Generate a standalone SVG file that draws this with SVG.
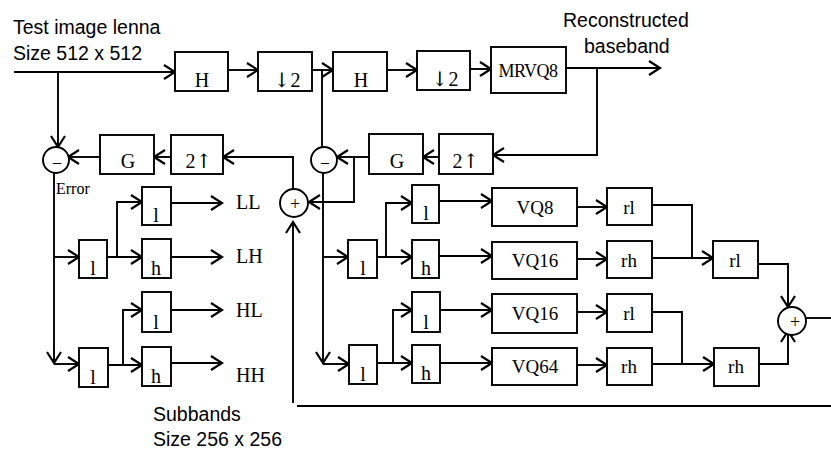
<svg xmlns="http://www.w3.org/2000/svg" width="831" height="451" viewBox="0 0 831 451">
<defs>
<marker id="a" markerWidth="16" markerHeight="16" refX="12" refY="7" orient="auto" markerUnits="userSpaceOnUse" overflow="visible">
<path d="M1,0 L12,7 L1,14" fill="none" stroke="#000" stroke-width="2.2"/>
</marker>
<style>
.b{fill:#fff;stroke:#000;stroke-width:1.9}
.c{fill:#fff;stroke:#000;stroke-width:1.9}
.w{fill:none;stroke:#000;stroke-width:1.9}
.ar{marker-end:url(#a)}
.s{font-family:"Liberation Serif","Times New Roman",serif;font-size:20px;fill:#000;text-anchor:middle}
.sl{font-family:"Liberation Serif","Times New Roman",serif;font-size:20px;fill:#000}
.a{font-family:"Liberation Sans",Arial,sans-serif;font-size:19.5px;fill:#000}
.arw{font-family:"DejaVu Serif","DejaVu Sans",serif;font-size:20px}
</style>
</defs>
<rect width="831" height="451" fill="#fff"/>

<g id="connectors">
<path class="w ar" d="M14,72 H175"/>
<path class="w ar" d="M228,70 H258"/>
<path class="w ar" d="M312,70 H333"/>
<path class="w ar" d="M387,70 H417"/>
<path class="w ar" d="M470,69 H491"/>
<path class="w ar" d="M566,68 H660"/>
<path class="w ar" d="M597,68 V155 H493"/>
<path class="w ar" d="M439,157 H423"/>
<path class="w ar" d="M369,157 H337"/>
<path class="w ar" d="M354,157 V202 H309"/>
<path class="w" d="M322,70 V147"/>
<path class="w ar" d="M323,173 V363"/>
<path class="w ar" d="M323,364 H349"/>
<path class="w ar" d="M323,257 H348"/>
<path class="w ar" d="M293,403 V222"/>
<path class="w ar" d="M293,189 V157 H223"/>
<path class="w ar" d="M171,157 H154"/>
<path class="w ar" d="M100,157 H68"/>
<path class="w ar" d="M58,72 V147"/>
<path class="w ar" d="M54,173 V363"/>
<path class="w ar" d="M54,364 H79"/>
<path class="w ar" d="M54,257 H79"/>
<path class="w ar" d="M107,257 H142"/>
<path class="w ar" d="M117,257 V202 H142"/>
<path class="w ar" d="M171,203 H222"/>
<path class="w ar" d="M171,257 H222"/>
<path class="w ar" d="M108,365 H142"/>
<path class="w ar" d="M123,365 V310 H142"/>
<path class="w ar" d="M171,310 H222"/>
<path class="w ar" d="M171,363 H222"/>
<path class="w ar" d="M377,257 H412"/>
<path class="w ar" d="M386,257 V203 H412"/>
<path class="w ar" d="M377,363 H412"/>
<path class="w ar" d="M393,363 V310 H412"/>
<path class="w ar" d="M439,201 H492"/>
<path class="w ar" d="M439,256 H492"/>
<path class="w ar" d="M440,310 H492"/>
<path class="w ar" d="M440,363 H492"/>
<path class="w ar" d="M577,207 H607"/>
<path class="w ar" d="M577,259 H607"/>
<path class="w ar" d="M577,312 H607"/>
<path class="w ar" d="M577,365 H607"/>
<path class="w" d="M652,205 H692 V258"/>
<path class="w ar" d="M652,258 H713"/>
<path class="w" d="M652,312 H682 V364"/>
<path class="w ar" d="M652,364 H714"/>
<path class="w ar" d="M758,264 H788 V307"/>
<path class="w ar" d="M759,364 H788 V331"/>
<path class="w" d="M806,318 H831"/>
<path class="w" d="M297,406 H831"/>
</g>

<g id="H1"><rect class="b" x="175" y="52" width="53" height="39"/><text class="s" x="202" y="87">H</text></g>
<g id="D1"><rect class="b" x="258" y="52" width="54" height="39"/><text class="s" x="287" y="87"><tspan class="arw">↓</tspan>2</text></g>
<g id="H2"><rect class="b" x="333" y="52" width="54" height="39"/><text class="s" x="361" y="87">H</text></g>
<g id="D2"><rect class="b" x="417" y="51" width="53" height="39"/><text class="s" x="445" y="86"><tspan class="arw">↓</tspan>2</text></g>
<g id="MRVQ8"><rect class="b" x="491" y="47" width="75" height="46"/><text class="s" x="528" y="77" style="font-size:18px;letter-spacing:-0.5px">MRVQ8</text></g>
<g id="G1"><rect class="b" x="100" y="135" width="54" height="39"/><text class="s" x="128" y="168">G</text></g>
<g id="U1"><rect class="b" x="171" y="135" width="52" height="39"/><text class="s" x="199" y="168">2<tspan class="arw">↑</tspan></text></g>
<g id="G2"><rect class="b" x="369" y="134" width="54" height="40"/><text class="s" x="397" y="168">G</text></g>
<g id="U2"><rect class="b" x="439" y="134" width="54" height="40"/><text class="s" x="466" y="168">2<tspan class="arw">↑</tspan></text></g>

<g id="sub1"><circle class="c" cx="56" cy="160" r="13"/><text class="s" x="57" y="167" style="font-size:16px">–</text></g>
<g id="sub2"><circle class="c" cx="324" cy="160" r="13"/><text class="s" x="325" y="167" style="font-size:16px">–</text></g>
<g id="add1"><circle class="c" cx="294" cy="203" r="14"/><text class="s" x="295" y="210" style="font-size:18px">+</text></g>
<g id="add2"><circle class="c" cx="792" cy="321" r="14"/><text class="s" x="795" y="328" style="font-size:18px">+</text></g>

<g id="Ll1"><rect class="b" x="79" y="240" width="28" height="38"/><text class="s" x="93" y="275">l</text></g>
<g id="LLb"><rect class="b" x="142" y="187" width="29" height="38"/><text class="s" x="156" y="222">l</text></g>
<g id="LHb"><rect class="b" x="142" y="239" width="29" height="39"/><text class="s" x="156" y="275">h</text></g>
<g id="Ll2"><rect class="b" x="79" y="348" width="29" height="39"/><text class="s" x="93" y="384">l</text></g>
<g id="HLb"><rect class="b" x="142" y="292" width="29" height="40"/><text class="s" x="156" y="329">l</text></g>
<g id="HHb"><rect class="b" x="142" y="347" width="29" height="39"/><text class="s" x="156" y="383">h</text></g>

<g id="Rl1"><rect class="b" x="348" y="240" width="29" height="38"/><text class="s" x="363" y="275">l</text></g>
<g id="Rlb"><rect class="b" x="412" y="185" width="27" height="38"/><text class="s" x="426" y="220">l</text></g>
<g id="Rhb"><rect class="b" x="412" y="240" width="27" height="38"/><text class="s" x="426" y="275">h</text></g>
<g id="Rl2"><rect class="b" x="349" y="345" width="28" height="39"/><text class="s" x="363" y="381">l</text></g>
<g id="Rl3"><rect class="b" x="412" y="292" width="28" height="40"/><text class="s" x="426" y="329">l</text></g>
<g id="Rh3"><rect class="b" x="412" y="345" width="28" height="38"/><text class="s" x="426" y="380">h</text></g>

<g id="VQ8"><rect class="b" x="492" y="188" width="85" height="38"/><text class="s" x="535" y="214" style="font-size:19px">VQ8</text></g>
<g id="VQ16a"><rect class="b" x="492" y="242" width="85" height="37"/><text class="s" x="535" y="267" style="font-size:19px">VQ16</text></g>
<g id="VQ16b"><rect class="b" x="492" y="294" width="85" height="39"/><text class="s" x="535" y="320" style="font-size:19px">VQ16</text></g>
<g id="VQ64"><rect class="b" x="492" y="348" width="85" height="37"/><text class="s" x="535" y="373" style="font-size:19px">VQ64</text></g>

<g id="r1"><rect class="b" x="607" y="188" width="45" height="37"/><text class="s" x="629" y="214" style="font-size:19px">rl</text></g>
<g id="r2"><rect class="b" x="607" y="241" width="45" height="37"/><text class="s" x="629" y="267" style="font-size:19px">rh</text></g>
<g id="r3"><rect class="b" x="607" y="294" width="45" height="38"/><text class="s" x="629" y="320" style="font-size:19px">rl</text></g>
<g id="r4"><rect class="b" x="607" y="348" width="45" height="37"/><text class="s" x="629" y="373" style="font-size:19px">rh</text></g>
<g id="rlc"><rect class="b" x="713" y="241" width="45" height="37"/><text class="s" x="735" y="267" style="font-size:19px">rl</text></g>
<g id="rhc"><rect class="b" x="714" y="348" width="45" height="38"/><text class="s" x="736" y="373" style="font-size:19px">rh</text></g>

<g id="labels">
<text class="a" x="13" y="34">Test image lenna</text>
<text class="a" x="13" y="60">Size 512 x 512</text>
<text class="a" x="563" y="27">Reconstructed</text>
<text class="a" x="584" y="53">baseband</text>
<text class="a" x="153" y="421">Subbands</text>
<text class="a" x="153" y="446">Size 256 x 256</text>
<text class="sl" x="56" y="194" style="font-size:16px">Error</text>
<text class="sl" x="236" y="209">LL</text>
<text class="sl" x="236" y="263">LH</text>
<text class="sl" x="236" y="317">HL</text>
<text class="sl" x="236" y="382">HH</text>
</g>
</svg>
